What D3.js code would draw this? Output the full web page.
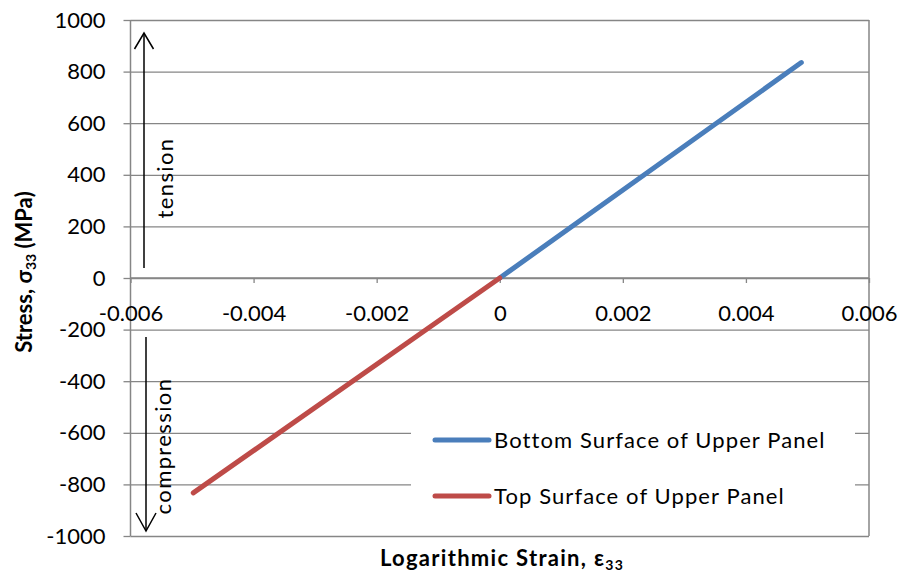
<!DOCTYPE html>
<html>
<head>
<meta charset="utf-8">
<script src="https://cdn.jsdelivr.net/npm/d3@7"></script>
<style>
  html, body { margin: 0; padding: 0; background: #fff; }
  svg { display: block; }
  text { font-family: Lato, "Open Sans", sans-serif; fill: #000; }
</style>
</head>
<body>
<svg id="chart" width="906" height="575"></svg>
<script>
// ---- data ----
const xTicks = [-0.006, -0.004, -0.002, 0, 0.002, 0.004, 0.006];
const xTickLabels = ["-0.006", "-0.004", "-0.002", "0", "0.002", "0.004", "0.006"];
const yTicks = [-1000, -800, -600, -400, -200, 0, 200, 400, 600, 800, 1000];
const yTickLabels = ["-1000", "-800", "-600", "-400", "-200", "0", "200", "400", "600", "800", "1000"];
const bottomStrain = [0, 0.0049];
const bottomStress = [0, 835];
const topStrain = [0, -0.00498];
const topStress = [0, -833];
const seriesNames = ["Bottom Surface of Upper Panel", "Top Surface of Upper Panel"];
const seriesColors = ["#4A7EBB", "#BE4B48"];

// ---- layout ----
const svg = d3.select("#chart");
const L = 130.5, R = 869, T = 20, B = 536;
const x = d3.scaleLinear().domain([-0.006, 0.006]).range([L, R]);
const y = d3.scaleLinear().domain([-1000, 1000]).range([B, T]);
const grid = "#868686";

// horizontal gridlines
const gy = svg.append("g")
  .attr("transform", `translate(${L},0)`)
  .call(d3.axisLeft(y).tickValues(yTicks).tickSize(-(R - L)).tickFormat(""));
gy.select(".domain").remove();
gy.selectAll("line").attr("stroke", grid).attr("stroke-width", 1.3);

// y-axis line with outer ticks and labels
const ya = svg.append("g")
  .attr("transform", `translate(${L},0)`)
  .call(d3.axisLeft(y).tickValues(yTicks).tickSize(7).tickPadding(18)
    .tickFormat((d, i) => yTickLabels[i]));
ya.select(".domain").attr("stroke", grid).attr("stroke-width", 1.5).attr("d", `M0,${T}V${B}`);
ya.selectAll("line").attr("stroke", grid).attr("stroke-width", 1.3);
ya.selectAll("text").attr("font-size", 22).attr("font-family", "Lato").attr("fill", "#000");

// right border
svg.append("line").attr("x1", R).attr("x2", R).attr("y1", T).attr("y2", B)
  .attr("stroke", grid).attr("stroke-width", 1.5);

// x-axis at y=0
const xa = svg.append("g")
  .attr("transform", `translate(0,${y(0)})`)
  .call(d3.axisBottom(x).tickValues(xTicks).tickSize(5).tickPadding(22)
    .tickFormat((d, i) => xTickLabels[i]));
xa.select(".domain").attr("stroke", grid).attr("stroke-width", 1.5).attr("d", `M${L},0H${R}`);
xa.selectAll("line").attr("stroke", grid).attr("stroke-width", 1.3);
xa.selectAll("text").attr("font-size", 22).attr("font-family", "Lato").attr("fill", "#000");

// data lines
const line = d3.line().x(d => x(d[0])).y(d => y(d[1]));
const bottomData = bottomStrain.map((v, i) => [v, bottomStress[i]]);
const topData = topStrain.map((v, i) => [v, topStress[i]]);
svg.append("path").datum(bottomData).attr("d", line)
  .attr("fill", "none").attr("stroke", seriesColors[0]).attr("stroke-width", 5).attr("stroke-linecap", "round");
svg.append("path").datum(topData).attr("d", line)
  .attr("fill", "none").attr("stroke", seriesColors[1]).attr("stroke-width", 5).attr("stroke-linecap", "round");

// legend
const lg = svg.append("g");
lg.append("rect").attr("x", 411).attr("y", 405).attr("width", 444).attr("height", 118).attr("fill", "#fff");
seriesNames.forEach((name, i) => {
  const ly = 440 + i * 56;
  lg.append("line").attr("x1", 435).attr("x2", 489).attr("y1", ly).attr("y2", ly)
    .attr("stroke", seriesColors[i]).attr("stroke-width", 5).attr("stroke-linecap", "round");
  lg.append("text").attr("x", 494).attr("y", ly).attr("dy", "0.35em")
    .attr("font-size", 22).attr("letter-spacing", 1.1).text(name);
});

// annotation arrows
function arrow(x0, yFrom, yTo, hw, hh) {
  const dir = yTo < yFrom ? 1 : -1;
  svg.append("line").attr("x1", x0).attr("x2", x0).attr("y1", yFrom).attr("y2", yTo)
    .attr("stroke", "#000").attr("stroke-width", 1.5);
  svg.append("path")
    .attr("d", `M${x0 - hw},${yTo + dir * hh}L${x0},${yTo}L${x0 + hw},${yTo + dir * hh}`)
    .attr("fill", "none").attr("stroke", "#000").attr("stroke-width", 1.5);
}
arrow(144, 268, 33, 9.5, 16);
arrow(146, 337, 531, 10, 18);

svg.append("text").attr("transform", "translate(173,178) rotate(-90)")
  .attr("text-anchor", "middle").attr("font-size", 22).attr("letter-spacing", 1.4).text("tension");
svg.append("text").attr("transform", "translate(171,446) rotate(-90)")
  .attr("text-anchor", "middle").attr("font-size", 22).attr("letter-spacing", 1.4).text("compression");

// axis titles
const xt = svg.append("text").attr("x", 502).attr("y", 566)
  .attr("text-anchor", "middle").attr("font-size", 22).attr("font-weight", "bold")
  .attr("letter-spacing", 1.3);
xt.append("tspan").text("Logarithmic Strain, ε");
xt.append("tspan").attr("font-size", 14).attr("dy", 4).text("33");

const yt = svg.append("text").attr("transform", "translate(32,272) rotate(-90)")
  .attr("text-anchor", "middle").attr("font-size", 22).attr("font-weight", "bold");
yt.append("tspan").text("Stress, σ");
yt.append("tspan").attr("font-size", 14).attr("dy", 4).text("33");
yt.append("tspan").attr("dy", -4).text(" (MPa)");
</script>
</body>
</html>
